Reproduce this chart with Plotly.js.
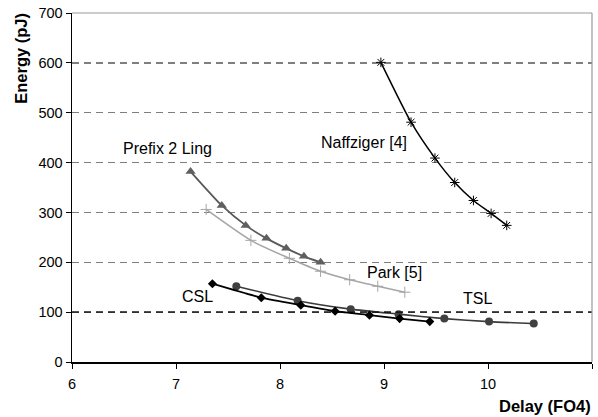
<!DOCTYPE html>
<html>
<head>
<meta charset="utf-8">
<script src="https://cdn.plot.ly/plotly-3.0.1.min.js"></script>
<style>html,body{margin:0;padding:0;background:#fff;}#chart{width:598px;height:417px;}</style>
</head>
<body>
<div id="chart"></div>
<script>
// Data
const naffDelay   = [8.97, 9.26, 9.49, 9.68, 9.86, 10.03, 10.18];
const naffEnergy  = [601, 481, 409, 360, 324, 298, 274];
const prefixDelay = [7.14, 7.44, 7.67, 7.87, 8.06, 8.23, 8.39];
const prefixEnergy= [382, 314, 274, 248, 228, 212, 200];
const parkDelay   = [7.29, 7.72, 8.09, 8.39, 8.67, 8.94, 9.20];
const parkEnergy  = [306, 244, 208, 182, 165, 152, 140];
const cslDelay    = [7.35, 7.82, 8.20, 8.53, 8.86, 9.15, 9.44];
const cslEnergy   = [157, 129, 114, 102, 94, 87, 81];
const tslDelay    = [7.58, 8.17, 8.68, 9.14, 9.58, 10.01, 10.44];
const tslEnergy   = [152, 123, 106, 96, 87, 81, 77];
const yTicks = [0, 100, 200, 300, 400, 500, 600, 700];
const xTicks = [6, 7, 8, 9, 10, 11];
const seriesLabels = [
  {text: 'Naffziger [4]', x: 8.81, y: 441},
  {text: 'Prefix 2 Ling', x: 6.92, y: 429},
  {text: 'Park [5]', x: 9.10, y: 180},
  {text: 'CSL', x: 7.21, y: 132},
  {text: 'TSL', x: 9.90, y: 128}
];

const F = 'Liberation Sans, Arial, sans-serif';
function tr(x, y, color, width, symbol, msize, mcolor, mline) {
  return {
    x: x, y: y, type: 'scatter', mode: 'lines+markers',
    line: {color: color, width: width, shape: 'spline', smoothing: 0.6},
    marker: {symbol: symbol, size: msize, color: mcolor, line: mline || {width: 0}},
    showlegend: false, hoverinfo: 'skip'
  };
}
const data = [
  tr(tslDelay, tslEnergy, '#3a3a3a', 1.6, 'circle', 8, '#404040'),
  tr(cslDelay, cslEnergy, '#000000', 1.8, 'diamond', 7, '#000000'),
  tr(parkDelay, parkEnergy, '#a6a6a6', 1.6, 'cross-thin-open', 8, '#a6a6a6', {width: 1, color: '#a6a6a6'}),
  tr(prefixDelay, prefixEnergy, '#595959', 1.8, 'triangle-up', 9, '#5f5f5f'),
  tr(naffDelay, naffEnergy, '#000000', 1.5, 'asterisk-open', 8, '#000000', {width: 1, color: '#000000'})
];

const annotations = seriesLabels.map(l => ({
  x: l.x, y: l.y, xref: 'x', yref: 'y', text: l.text, showarrow: false,
  font: {family: F, size: 16, color: '#000'}, xanchor: 'center', yanchor: 'middle'
}));
annotations.push({
  xref: 'paper', yref: 'paper', x: 1.002, y: -0.127, text: '<b>Delay (FO4)</b>',
  showarrow: false, xanchor: 'right', yanchor: 'middle',
  font: {family: F, size: 16.5, color: '#000'}
});
annotations.push({
  xref: 'paper', yref: 'paper', x: -0.098, y: 1.005, text: '<b>Energy (pJ)</b>',
  showarrow: false, textangle: -90, xanchor: 'center', yanchor: 'top',
  font: {family: F, size: 16.5, color: '#000'}
});

const layout = {
  width: 598, height: 417,
  margin: {l: 72, r: 6, t: 13, b: 55},
  paper_bgcolor: '#fff', plot_bgcolor: '#fff',
  font: {family: F, size: 14.5, color: '#000'},
  xaxis: {
    range: [6, 11], tickvals: xTicks, ticktext: xTicks.map(String),
    showgrid: false, zeroline: false, showline: true, linecolor: '#000', linewidth: 1.5,
    ticks: 'outside', ticklen: 5, tickcolor: '#000', tickwidth: 1, ticklabelstandoff: 3,
    tickfont: {family: F, size: 14.5, color: '#000'}
  },
  yaxis: {
    range: [0, 700], tickvals: yTicks, ticktext: yTicks.map(String),
    showgrid: true, gridcolor: '#7f7f7f', gridwidth: 1.5, griddash: '7px,5px',
    zeroline: false, showline: true, linecolor: '#000', linewidth: 1.5,
    ticks: 'outside', ticklen: 5, tickcolor: '#000', tickwidth: 1,
    tickfont: {family: F, size: 14.5, color: '#000'}
  },
  shapes: [
    {type: 'line', xref: 'paper', yref: 'y', x0: 0, x1: 1, y0: 100, y1: 100,
     line: {color: '#000', width: 1, dash: '7px,5px'}, layer: 'above'},
    {type: 'line', xref: 'paper', yref: 'paper', x0: 0, x1: 1, y0: 1, y1: 1,
     line: {color: '#9a9a9a', width: 1.2}},
    {type: 'line', xref: 'paper', yref: 'paper', x0: 1, x1: 1, y0: 0, y1: 1,
     line: {color: '#9a9a9a', width: 1.2}}
  ],
  annotations: annotations
};
Plotly.newPlot('chart', data, layout, {displayModeBar: false, staticPlot: true});
</script>
</body>
</html>
